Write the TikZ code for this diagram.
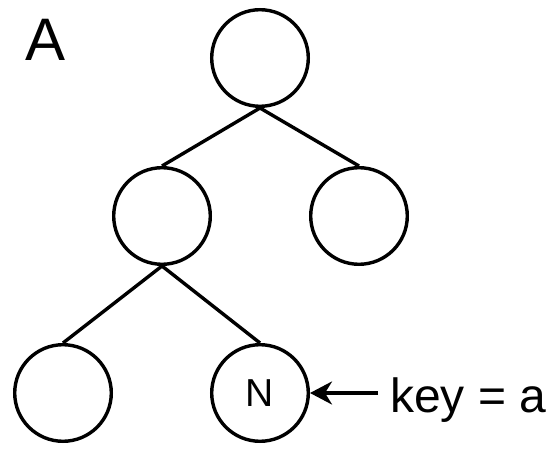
\documentclass[tikz,border=0pt]{standalone}
\usepackage{fontspec}
\setmainfont{Liberation Sans}
\usepackage{tikz}
\usetikzlibrary{arrows.meta, positioning}
\tikzset{
    treenode/.style = {circle, draw, line width=3.4pt, minimum size=96.6pt, inner sep = 0pt, 
      node distance=0em, font=\fontsize{39}{44}\selectfont},
    textnode/.style  = {draw=none, fill=none, rectangle, inner sep = 0pt, 
      node distance=0em},
    edge/.style = {black, line width=3.4pt},
    connect/.style = {black, line width=3.4pt, -{Stealth[length=22pt, width=23pt, inset=7pt]}}
}
\begin{document}
\begin{tikzpicture}
    \useasboundingbox (0,0) rectangle (555pt,448pt);

    \node [name=root, treenode] at (260pt,390pt) {}; 

    \node [name=l, treenode, right of = root, xshift=-98pt, yshift=-158pt] {}; 
    \node [name=r, treenode, right of = root, xshift=99pt, yshift=-158pt] {}; 

    \node [name=ll, treenode, right of = l, xshift=-99pt, yshift=-177pt] {}; 
    \node [name=n, treenode, right of = l, xshift=98pt, yshift=-177pt] {N}; 

    \node [name=title, textnode, right of = root, xshift=-235pt, yshift=-3pt, anchor=base west, 
        font=\fontsize{60}{72}\selectfont] {A}; 
    \node [name=key, textnode, right of = n, xshift=130pt, yshift=-19pt, anchor=base west, 
        font=\fontsize{48}{58}\selectfont] {key = a}; 
    \coordinate [node distance=0em, right of = n, xshift=118pt] (keytail);

    \draw [edge] (root.south) -- (l.north); 
    \draw [edge] (root.south) -- (r.north); 
    \draw [edge] (l.south) -- (ll.north); 
    \draw [edge] (l.south) -- (n.north); 
    \draw [connect] (keytail) -- (n); 
\end{tikzpicture}
\end{document}
